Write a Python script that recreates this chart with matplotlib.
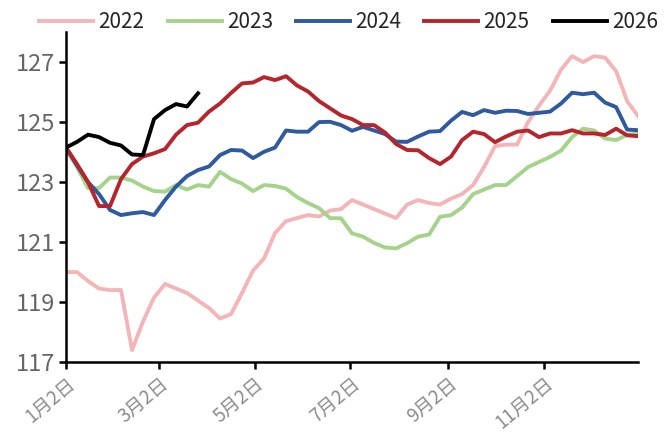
import numpy as np
import pandas as pd
import matplotlib
matplotlib.use('Agg')
import matplotlib.pyplot as plt

# weekly observations, one per week starting Jan 2
years = ['2022', '2023', '2024', '2025', '2026']
colors = ['#F4B5B8', '#A6D38B', '#2F5A9E', '#B5252C', '#000000']

v2022 = [120.0, 120.0, 119.7, 119.45, 119.4, 119.4, 117.4, 118.35, 119.15, 119.6,
         119.45, 119.3, 119.05, 118.8, 118.45, 118.6, 119.3, 120.05, 120.45, 121.3,
         121.7, 121.8, 121.9, 121.85, 122.05, 122.1, 122.4, 122.25, 122.1, 121.95,
         121.8, 122.25, 122.4, 122.3, 122.25, 122.45, 122.6, 122.9, 123.5, 124.2,
         124.25, 124.25, 125.0, 125.55, 126.05, 126.75, 127.2, 127.0, 127.2, 127.15,
         126.7, 125.7, 125.2]
v2023 = [124.1, 123.5, 122.8, 122.8, 123.15, 123.15, 123.05, 122.85, 122.7, 122.68,
         122.9, 122.75, 122.9, 122.85, 123.34, 123.1, 122.95, 122.7, 122.9, 122.87,
         122.78, 122.5, 122.3, 122.13, 121.8, 121.79, 121.29, 121.18, 120.97, 120.82,
         120.79, 120.96, 121.18, 121.25, 121.84, 121.9, 122.15, 122.6, 122.75, 122.9,
         122.9, 123.2, 123.5, 123.67, 123.84, 124.05, 124.5, 124.78, 124.72, 124.45,
         124.4, 124.57, 124.62]
v2024 = [124.15, 123.55, 123.0, 122.6, 122.07, 121.9, 121.96, 122.0, 121.9, 122.4,
         122.85, 123.2, 123.4, 123.52, 123.9, 124.07, 124.05, 123.8, 124.01, 124.15,
         124.72, 124.68, 124.68, 125.0, 125.01, 124.9, 124.71, 124.84, 124.72, 124.6,
         124.35, 124.34, 124.52, 124.68, 124.7, 125.05, 125.34, 125.23, 125.4, 125.31,
         125.38, 125.37, 125.27, 125.31, 125.35, 125.62, 125.98, 125.93, 125.98, 125.65,
         125.5, 124.75, 124.73]
v2025 = [124.15, 123.6, 123.0, 122.2, 122.2, 123.1, 123.6, 123.85, 123.96, 124.1,
         124.58, 124.9, 124.98, 125.35, 125.62, 125.97, 126.29, 126.32, 126.5, 126.4,
         126.53, 126.22, 126.02, 125.7, 125.46, 125.22, 125.1, 124.9, 124.9, 124.65,
         124.27, 124.07, 124.06, 123.8, 123.6, 123.85, 124.4, 124.68, 124.6, 124.33,
         124.52, 124.68, 124.72, 124.5, 124.62, 124.62, 124.73, 124.62, 124.62, 124.57,
         124.78, 124.56, 124.53]
v2026 = [124.15, 124.34, 124.58, 124.5, 124.31, 124.22, 123.92, 123.9, 125.1, 125.4,
         125.6, 125.52, 125.96]

tick_days = [0, 59, 120, 181, 243, 304]
tick_labels = ['1月2日', '3月2日', '5月2日', '7月2日', '9月2日', '11月2日']

series = [v2022, v2023, v2024, v2025, v2026]
days = pd.date_range('2025-01-02', periods=len(v2022), freq='7D')
day_num = np.array((days - days[0]).days)

cjk = ['Noto Sans CJK SC', 'DejaVu Sans']

fig = plt.figure(figsize=(6.64, 4.46), dpi=100)
ax = fig.add_axes([0.0994, 0.1883, 0.8616, 0.7397])

for name, vals, c in zip(years, series, colors):
    ax.plot(day_num[:len(vals)], vals, color=c, lw=2.8, label=name)

ax.set_xlim(0, day_num[-1])
ax.set_ylim(117, 128)
ax.set_yticks([117, 119, 121, 123, 125, 127])
ax.set_xticks(tick_days)
ax.set_xticklabels(tick_labels, rotation=40, ha='right', rotation_mode='anchor',
                   family=cjk, fontsize=13.5, color='#8c8c8c')
for t in ax.get_yticklabels():
    t.set_family(cjk)
    t.set_fontsize(17)
    t.set_color('#666666')

for s in ['top', 'right']:
    ax.spines[s].set_visible(False)
for s in ['left', 'bottom']:
    ax.spines[s].set_linewidth(1.8)
ax.tick_params(axis='both', direction='out', length=5, width=1.8, pad=3)

leg = fig.legend(loc='center', bbox_to_anchor=(0.525, 0.95), ncol=5, frameon=False,
                 handlelength=2.6, handletextpad=0.25, columnspacing=1.1,
                 prop={'family': cjk, 'size': 15})
for t in leg.get_texts():
    t.set_color('#262626')

fig.savefig('out.png', dpi=100)
